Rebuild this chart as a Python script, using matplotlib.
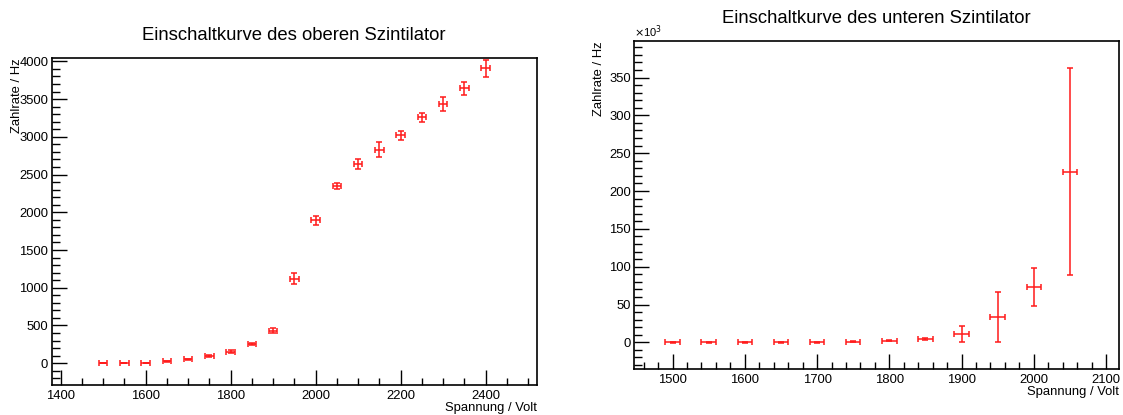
import numpy as np
import matplotlib
matplotlib.use("Agg")
import matplotlib.pyplot as plt
from matplotlib.ticker import MultipleLocator

plt.rcParams['font.family'] = ['Liberation Sans', 'DejaVu Sans']

# oberer Szintilator: Spannung (V), Zaehlrate (Hz)
volt_oben = [1500, 1550, 1600, 1650, 1700, 1750, 1800, 1850, 1900, 1950,
             2000, 2050, 2100, 2150, 2200, 2250, 2300, 2350, 2400]
rate_oben = [0, 0, 0, 25, 50, 95, 155, 257, 430, 1121,
             1896, 2348, 2636, 2831, 3021, 3260, 3433, 3641, 3907]
err_oben = [3, 3, 3, 6, 8, 10, 14, 12, 31, 71,
            58, 44, 68, 100, 60, 62, 90, 89, 110]

# unterer Szintilator: Zaehlrate in 10^3 Hz
volt_unten = [1500, 1550, 1600, 1650, 1700, 1750, 1800, 1850, 1900, 1950, 2000, 2050]
rate_unten = [0, 0, 0, 0, 0.1, 1.0, 2.2, 4.4, 11.5, 33.5, 73.5, 225.5]
err_unten = [0.2, 0.2, 0.2, 0.2, 0.3, 0.6, 0.9, 1.8, 10.5, 33, 25, 137]
xerr = 10

W, H = 1123, 415
fig = plt.figure(figsize=(W / 100, H / 100), dpi=100)

def px(p):
    return p * 72 / 100

def setup(ax, title, xmaj, xmin, ymaj, ymin):
    ax.xaxis.set_major_locator(MultipleLocator(xmaj))
    ax.xaxis.set_minor_locator(MultipleLocator(xmin))
    ax.yaxis.set_major_locator(MultipleLocator(ymaj))
    ax.yaxis.set_minor_locator(MultipleLocator(ymin))
    ax.tick_params(which='both', direction='in', top=False, right=False,
                   labelsize=9.4, width=1)
    ax.tick_params(which='major', length=px(15))
    ax.tick_params(which='minor', length=px(7.5))
    ax.tick_params(axis='y', pad=px(3.5))
    ax.tick_params(axis='x', pad=px(4.5))
    for s in ax.spines.values():
        s.set_linewidth(1.2)
    ax.annotate(title, xy=(0.5, 1), xycoords='axes fraction',
                xytext=(0, px(23)), textcoords='offset points',
                ha='center', va='center', fontsize=13.3)
    ax.annotate('Spannung / Volt', xy=(1, 0), xycoords='axes fraction',
                xytext=(0, -px(23)), textcoords='offset points',
                ha='right', va='center', fontsize=9.4)
    ax.annotate('Zahlrate / Hz', xy=(0, 1), xycoords='axes fraction',
                xytext=(-px(35), 0), textcoords='offset points',
                ha='center', va='top', rotation=90, fontsize=9.4)

# links
ax1 = fig.add_axes([51.7 / W, 1 - 385 / H, (536.5 - 51.7) / W, (385 - 58) / H])
ax1.errorbar(volt_oben, rate_oben, xerr=xerr, yerr=err_oben, fmt='none',
             ecolor='#ff1a1a', elinewidth=1.1, capsize=2.2, capthick=1.1)
ax1.set_xlim(1379, 2520)
ax1.set_ylim(-289, 4045)
setup(ax1, 'Einschaltkurve des oberen Szintilator', 200, 50, 500, 100)

# rechts
ax2 = fig.add_axes([634.3 / W, 1 - 369 / H, (1119 - 634.3) / W, (369 - 41.5) / H])
ax2.errorbar(volt_unten, rate_unten, xerr=xerr, yerr=err_unten, fmt='none',
             ecolor='#ff1a1a', elinewidth=1.1, capsize=2.2, capthick=1.1)
ax2.set_xlim(1447, 2118)
ax2.set_ylim(-35.2, 397.6)
setup(ax2, 'Einschaltkurve des unteren Szintilator', 100, 20, 50, 10)
ax2.annotate(r'$\times$10$^{3}$', xy=(0, 1), xycoords='axes fraction',
             xytext=(0, px(2)), textcoords='offset points',
             ha='left', va='bottom', fontsize=8)

fig.savefig('out.png', dpi=100)
